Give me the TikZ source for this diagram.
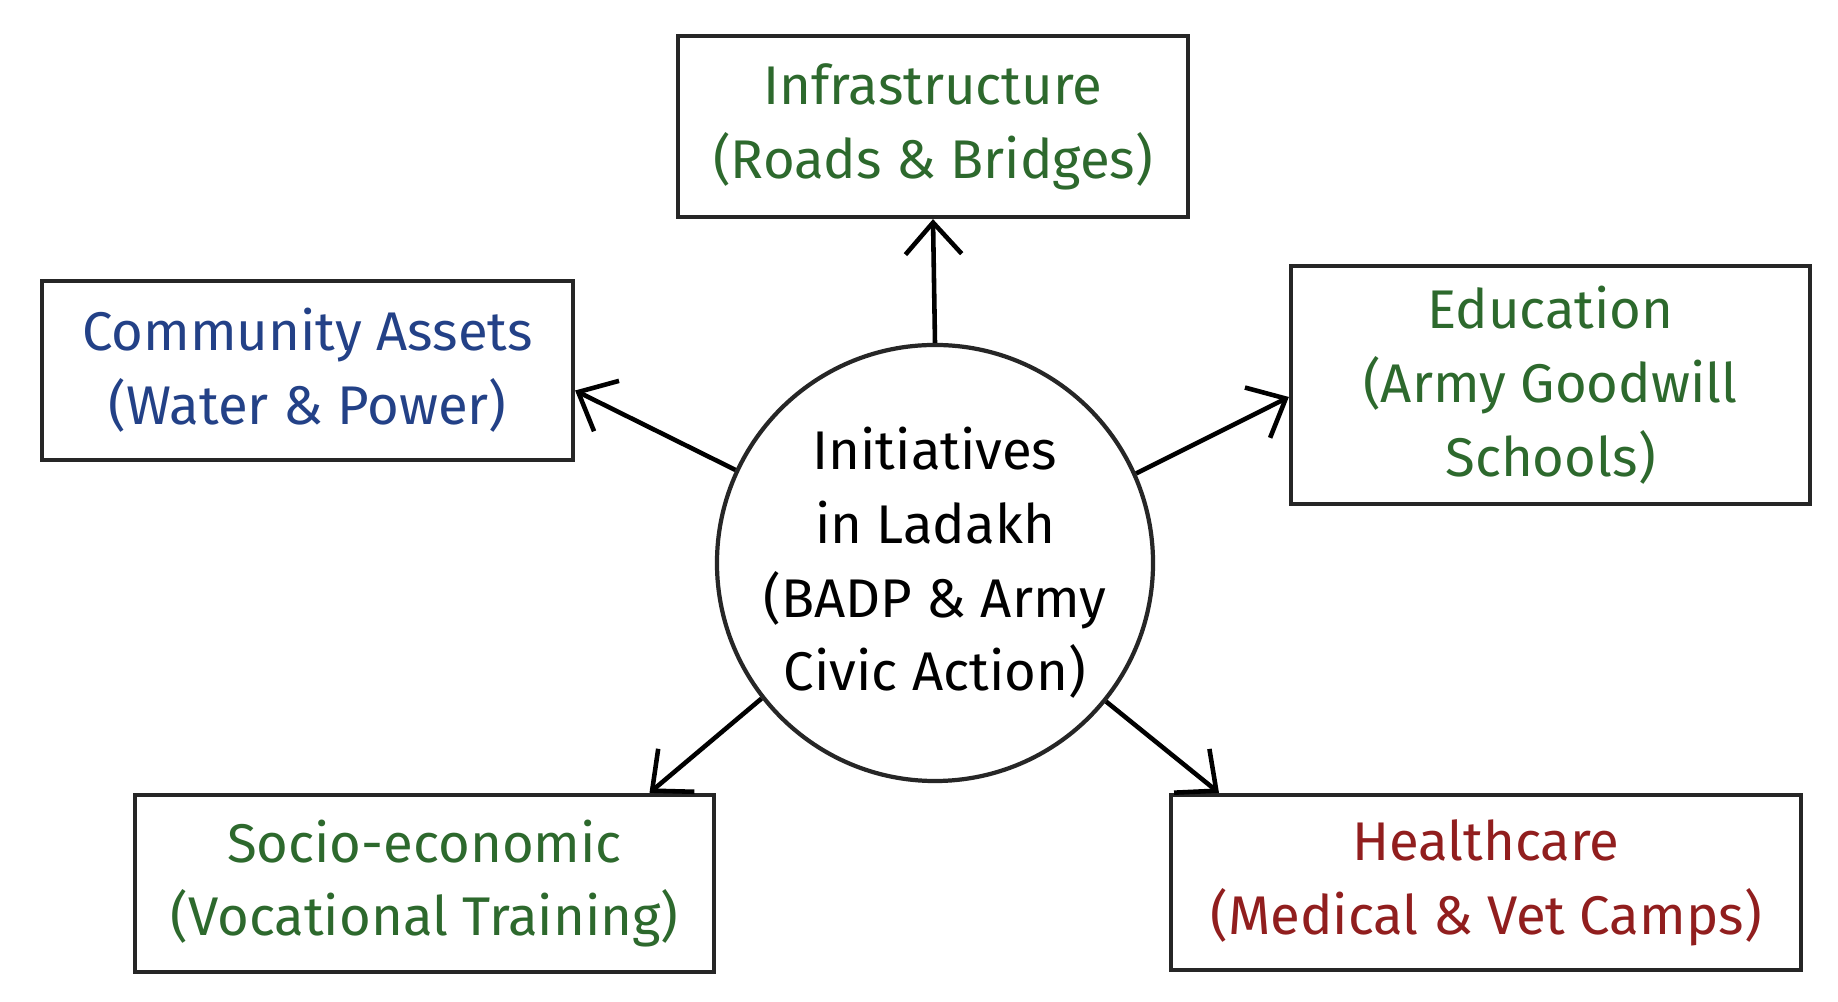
\documentclass[tikz,border=0pt]{standalone}
\usepackage{fontspec}
\setmainfont{Fira Sans}
\usetikzlibrary{arrows.meta}
\definecolor{cgreen}{RGB}{45,105,45}
\definecolor{cblue}{RGB}{35,65,135}
\definecolor{cred}{RGB}{145,30,30}
\begin{document}
\begin{tikzpicture}[
  box/.style={draw=black!85,line width=1.2pt,align=center,inner sep=0pt,font=\fontsize{15.5}{21}\selectfont},
  arr/.style={line width=1.3pt,-{Straight Barb[length=9pt,width=16pt]}}]
\useasboundingbox[fill=white] (0,0) rectangle (18.38,10.02);
\node[box,minimum width=5.1cm,minimum height=1.81cm,text=cgreen] (infra) at (9.33,8.755) {Infrastructure\\(Roads \& Bridges)};
\node[box,minimum width=5.31cm,minimum height=1.79cm,text=cblue] (comm) at (3.075,6.315) {Community Assets\\(Water \& Power)};
\node[box,minimum width=5.19cm,minimum height=2.38cm,text=cgreen] (edu) at (15.505,6.17) {Education\\(Army Goodwill\\Schools)};
\node[box,minimum width=5.79cm,minimum height=1.77cm,text=cgreen] (socio) at (4.245,1.185) {Socio-economic\\(Vocational Training)};
\node[box,minimum width=6.3cm,minimum height=1.75cm,text=cred] (health) at (14.86,1.195) {Healthcare\\(Medical \& Vet Camps)};
\node[box,circle,minimum size=4.26cm,text=black] (circ) at (9.35,4.39) {Initiatives\\in Ladakh\\(BADP \& Army\\Civic Action)};
\draw[arr] (circ.north) -- (infra.south);
\draw[arr] (circ.155) -- ([yshift=-0.2cm]comm.east);
\draw[arr] (circ.24) -- ([yshift=-0.12cm]edu.west);
\draw[arr] (circ.218) -- ([xshift=2.25cm]socio.north);
\draw[arr] (circ.321) -- ([xshift=-2.67cm]health.north);
\end{tikzpicture}
\end{document}
